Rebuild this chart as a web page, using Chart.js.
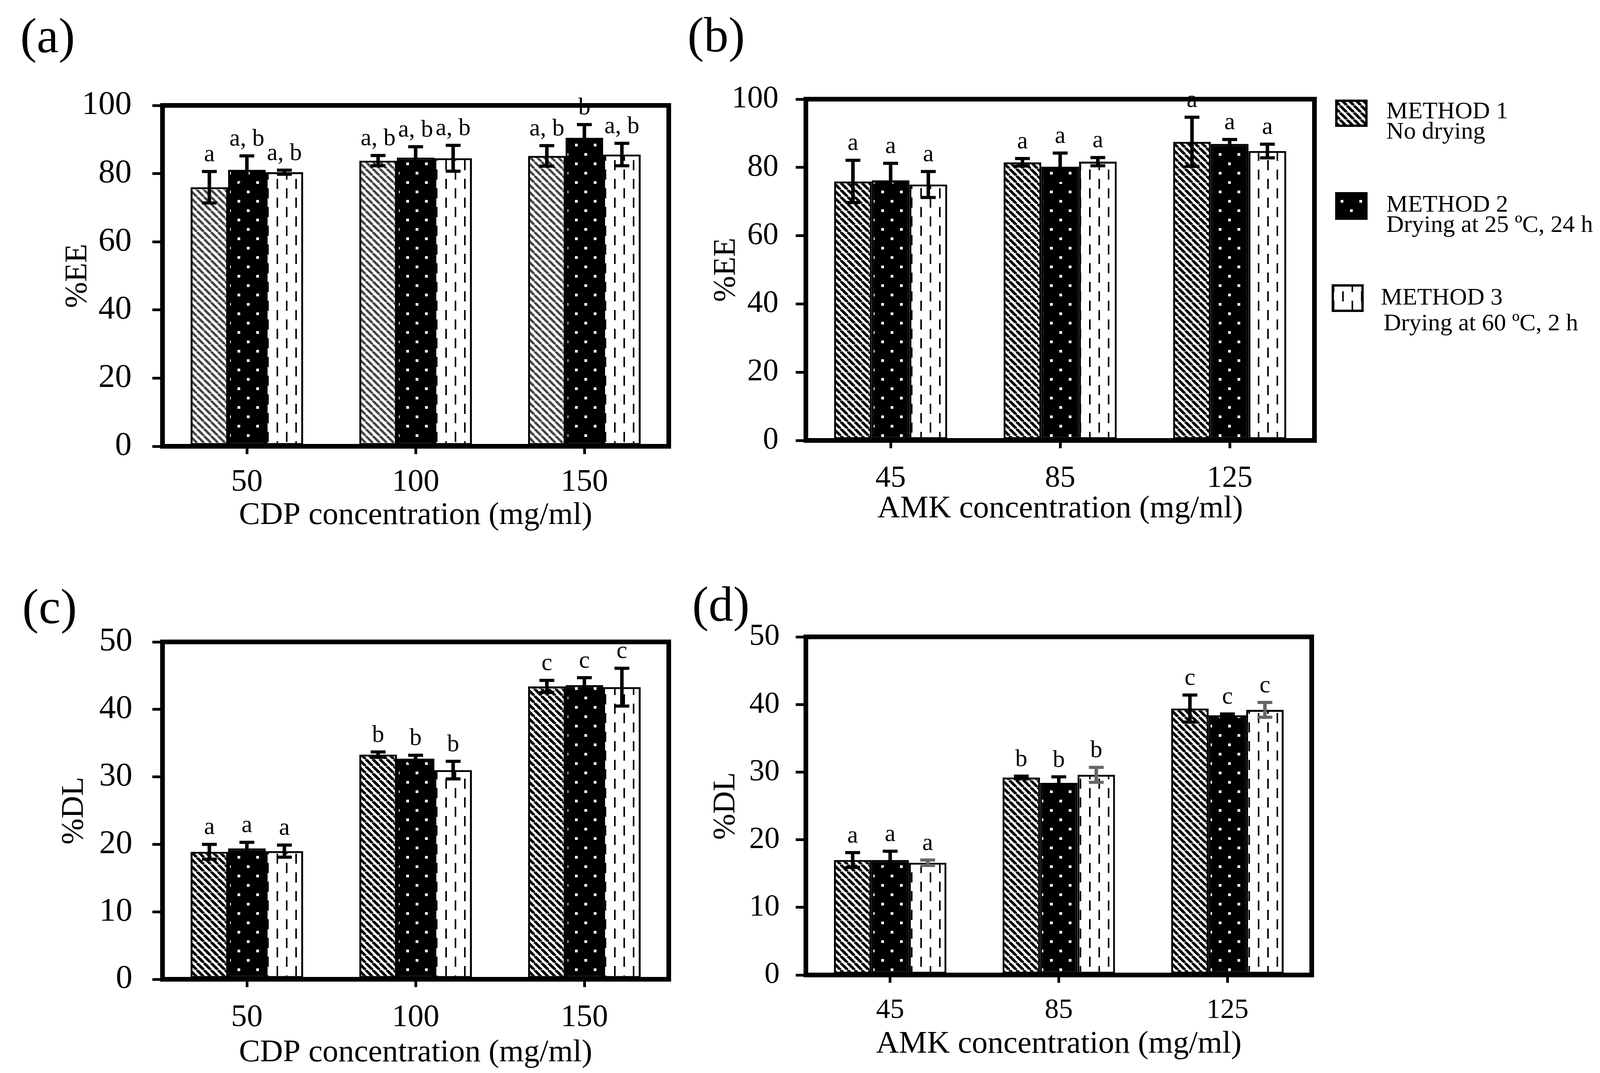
<!DOCTYPE html>
<html>
<head>
<meta charset="utf-8">
<script src="https://cdn.jsdelivr.net/npm/chart.js@4.4.1/dist/chart.umd.min.js"></script>
<style>
  html, body { margin: 0; padding: 0; background: #fff; }
  body { width: 4108px; height: 2748px; position: relative; overflow: hidden; }
  canvas { position: absolute; }
</style>
</head>
<body>
<canvas id="panelA"></canvas>
<canvas id="panelB"></canvas>
<canvas id="panelC"></canvas>
<canvas id="panelD"></canvas>
<script>
// ---- data ----
const methods = ['METHOD 1', 'METHOD 2', 'METHOD 3'];
const methodNotes = ['No drying', 'Drying at 25 ºC, 24 h', 'Drying at 60 ºC, 2 h'];
const cdpConc = ['50', '100', '150'];
const amkConc = ['45', '85', '125'];

// (a) %EE vs CDP concentration
const eeCdp = [[76.0, 83.8, 85.2], [81.1, 84.7, 90.5], [80.4, 84.5, 85.6]];
const eeCdpErr = [[4.6, 1.5, 3.0], [4.1, 3.2, 3.9], [0.6, 3.8, 3.3]];
const eeCdpSig = [['a', 'a, b', 'a, b'], ['a, b', 'a, b', 'b'], ['a, b', 'a, b', 'a, b']];

// (b) %EE vs AMK concentration
const eeAmk = [[75.9, 81.5, 87.5], [76.2, 80.2, 86.9], [75.0, 81.7, 84.8]];
const eeAmkErr = [[6.2, 1.1, 7.2], [5.0, 4.0, 1.3], [3.8, 1.2, 2.0]];
const eeAmkSig = [['a', 'a', 'a'], ['a', 'a', 'a'], ['a', 'a', 'a']];

// (c) %DL vs CDP concentration
const dlCdp = [[18.9, 33.3, 43.4], [19.4, 32.7, 43.6], [19.0, 31.0, 43.3]];
const dlCdpErr = [[1.1, 0.4, 0.9], [0.9, 0.5, 1.1], [0.9, 1.3, 2.8]];
const dlCdpSig = [['a', 'b', 'c'], ['a', 'b', 'c'], ['a', 'b', 'c']];

// (d) %DL vs AMK concentration
const dlAmk = [[17.0, 29.2, 39.4], [17.0, 28.4, 38.4], [16.6, 29.6, 39.2]];
const dlAmkErr = [[1.1, 0.2, 2.0], [1.3, 0.9, 0.2], [0.4, 1.1, 1.1]];
const dlAmkSig = [['a', 'b', 'c'], ['a', 'b', 'c'], ['a', 'b', 'c']];

const SERIF = "'Liberation Serif', 'Times New Roman', serif";
Chart.defaults.font.family = SERIF;
Chart.defaults.color = '#000';

// ---- fill patterns ----
function stripes(color, size, lw) {
  const c = document.createElement('canvas');
  c.width = c.height = size;
  const g = c.getContext('2d');
  g.fillStyle = '#fff';
  g.fillRect(0, 0, size, size);
  g.strokeStyle = color;
  g.lineWidth = lw;
  g.beginPath();
  for (const o of [-size, 0, size]) {
    g.moveTo(o, 0);
    g.lineTo(o + size, size);
  }
  g.stroke();
  return g.createPattern(c, 'repeat');
}
function dots() {
  const c = document.createElement('canvas');
  c.width = c.height = 48;
  const g = c.getContext('2d');
  g.fillStyle = '#000';
  g.fillRect(0, 0, 48, 48);
  g.fillStyle = '#fff';
  g.fillRect(8, 8, 7, 7);
  g.fillRect(32, 32, 7, 7);
  return g.createPattern(c, 'repeat');
}
function dashes() {
  const c = document.createElement('canvas');
  c.width = c.height = 48;
  const g = c.getContext('2d');
  g.fillStyle = '#fff';
  g.fillRect(0, 0, 48, 48);
  g.fillStyle = '#000';
  g.fillRect(12, 2, 4, 26);
  g.fillRect(36, 26, 4, 22);
  g.fillRect(36, 0, 4, 4);
  return g.createPattern(c, 'repeat');
}
const patGray = [stripes('#444', 18, 6), dots(), dashes()];
const patBlack = [stripes('#000', 18, 7), dots(), dashes()];

// ---- plugins ----
const framePlugin = {
  id: 'frame',
  afterDraw(chart) {
    const { ctx, chartArea: a } = chart;
    ctx.save();
    ctx.strokeStyle = '#000';
    ctx.lineWidth = 12;
    ctx.lineJoin = 'miter';
    ctx.strokeRect(a.left, a.top, a.right - a.left, a.bottom - a.top);
    ctx.restore();
  }
};

const errorPlugin = {
  id: 'errorbars',
  afterDatasetsDraw(chart) {
    const { ctx } = chart;
    const ys = chart.scales.y;
    ctx.save();
    chart.data.datasets.forEach((ds, i) => {
      const meta = chart.getDatasetMeta(i);
      meta.data.forEach((bar, j) => {
        const v = ds.data[j], e = ds.errors[j];
        const top = ys.getPixelForValue(v + e);
        const bot = ys.getPixelForValue(v - e);
        ctx.strokeStyle = ds.errColor;
        ctx.lineWidth = 9;
        ctx.beginPath();
        ctx.moveTo(bar.x, top);
        ctx.lineTo(bar.x, bot);
        ctx.stroke();
        ctx.lineWidth = 8;
        ctx.beginPath();
        ctx.moveTo(bar.x - 19, top);
        ctx.lineTo(bar.x + 19, top);
        ctx.moveTo(bar.x - 19, bot);
        ctx.lineTo(bar.x + 19, bot);
        ctx.stroke();
        ctx.fillStyle = '#000';
        ctx.font = '62px ' + SERIF;
        ctx.textAlign = 'center';
        ctx.textBaseline = 'alphabetic';
        ctx.fillText(ds.letters[j], bar.x, top - 26);
      });
    });
    ctx.restore();
  }
};

const tagPlugin = {
  id: 'tag',
  afterDraw(chart, args, opts) {
    const { ctx } = chart;
    ctx.save();
    ctx.fillStyle = '#000';
    ctx.font = '126px ' + SERIF;
    ctx.textAlign = 'left';
    ctx.textBaseline = 'alphabetic';
    ctx.fillText(opts.text, opts.x, opts.y);
    ctx.restore();
  }
};

const legendPlugin = {
  id: 'methodLegend',
  afterDraw(chart, args, opts) {
    if (!opts.items) return;
    const { ctx } = chart;
    ctx.save();
    opts.items.forEach((it, i) => {
      const [x, y, w, h] = it.box;
      ctx.fillStyle = patBlack[i];
      ctx.fillRect(x, y, w, h);
      ctx.strokeStyle = '#000';
      ctx.lineWidth = 6;
      ctx.strokeRect(x, y, w, h);
      ctx.fillStyle = '#000';
      ctx.font = '62px ' + SERIF;
      ctx.textAlign = 'left';
      ctx.textBaseline = 'alphabetic';
      ctx.fillText(methods[i], it.t1[0], it.t1[1]);
      ctx.fillText(methodNotes[i], it.t2[0], it.t2[1]);
    });
    ctx.restore();
  }
};

// ---- panel builder ----
function panel(id, g, cats, values, errs, sig, pats, errColors) {
  const cv = document.getElementById(id);
  const [cx, cy, cw, ch] = g.canvas;
  cv.width = cw; cv.height = ch;
  Object.assign(cv.style, { left: cx + 'px', top: cy + 'px', width: cw + 'px', height: ch + 'px' });
  const L = g.area[0] - cx, T = g.area[1] - cy, R = g.area[2] - cx, B = g.area[3] - cy;

  new Chart(cv, {
    type: 'bar',
    data: {
      labels: cats,
      datasets: values.map((d, i) => ({
        label: methods[i],
        data: d,
        errors: errs[i],
        letters: sig[i],
        errColor: errColors[i],
        backgroundColor: pats[i],
        borderColor: '#000',
        borderWidth: 5,
        borderSkipped: false,
        categoryPercentage: 0.667,
        barPercentage: 1.0
      }))
    },
    options: {
      responsive: false,
      animation: false,
      devicePixelRatio: 1,
      layout: { padding: { top: T, right: cw - R, left: 0, bottom: 0 } },
      plugins: {
        legend: { display: false },
        tooltip: { enabled: false },
        tag: { text: g.tag, x: g.tagPos[0] - cx, y: g.tagPos[1] - cy },
        methodLegend: g.legend ? {
          items: g.legend.map(it => ({
            box: [it.box[0] - cx, it.box[1] - cy, it.box[2], it.box[3]],
            t1: [it.t1[0] - cx, it.t1[1] - cy],
            t2: [it.t2[0] - cx, it.t2[1] - cy]
          }))
        } : {}
      },
      scales: {
        x: {
          grid: { offset: false, drawOnChartArea: false, drawTicks: true, tickLength: 20, lineWidth: 7, color: '#000' },
          border: { display: true, width: 12, color: '#000' },
          ticks: { font: { size: g.xTickSize }, color: '#000', padding: g.xTickPad, maxRotation: 0 },
          title: { display: true, text: g.xTitle, color: '#000', font: { size: 81 }, padding: { top: 0, bottom: g.xTitlePad } },
          afterFit(s) { s.height = ch - B; }
        },
        y: {
          min: 0,
          max: g.yMax,
          grid: { drawOnChartArea: false, drawTicks: true, tickLength: 26, lineWidth: 7, color: '#000' },
          border: { display: true, width: 12, color: '#000' },
          ticks: {
            stepSize: 10,
            font: { size: g.yTickSize },
            color: '#000',
            padding: g.yTickPad,
            callback: v => (v % g.labelStep === 0 ? String(v) : '')
          },
          title: { display: true, text: g.yTitle, color: '#000', font: { size: 80 }, padding: { top: g.yTitlePad, bottom: 0 } },
          afterFit(s) { s.width = L; }
        }
      }
    },
    plugins: [framePlugin, errorPlugin, tagPlugin, legendPlugin]
  });
}

const black3 = ['#000', '#000', '#000'];

panel('panelA', {
  canvas: [0, 0, 1720, 1440], area: [416, 270, 1712, 1143],
  yMax: 100, labelStep: 20, yTitle: '%EE', xTitle: 'CDP concentration (mg/ml)',
  xTickSize: 81, yTickSize: 85, xTickPad: 24, yTickPad: 53, xTitlePad: 71, yTitlePad: 152,
  tag: '(a)', tagPos: [52, 134]
}, cdpConc, eeCdp, eeCdpErr, eeCdpSig, patGray, black3);

panel('panelB', {
  canvas: [1720, 0, 2388, 1440], area: [2063, 254, 3365, 1128],
  yMax: 100, labelStep: 20, yTitle: '%EE', xTitle: 'AMK concentration (mg/ml)',
  xTickSize: 78, yTickSize: 80, xTickPad: 31, yTickPad: 44, xTitlePad: 88, yTitlePad: 92,
  tag: '(b)', tagPos: [1760, 132],
  legend: [
    { box: [3421, 258, 77, 64], t1: [3549, 303], t2: [3549, 355] },
    { box: [3421, 495, 77, 65], t1: [3549, 542], t2: [3549, 594] },
    { box: [3412, 731, 76, 65], t1: [3535, 780], t2: [3542, 846] }
  ]
}, amkConc, eeAmk, eeAmkErr, eeAmkSig, patBlack, black3);

panel('panelC', {
  canvas: [0, 1440, 1720, 1308], area: [416, 1644, 1712, 2508],
  yMax: 50, labelStep: 10, yTitle: '%DL', xTitle: 'CDP concentration (mg/ml)',
  xTickSize: 81, yTickSize: 85, xTickPad: 30, yTickPad: 51, xTitlePad: 3, yTitlePad: 143,
  tag: '(c)', tagPos: [57, 1596]
}, cdpConc, dlCdp, dlCdpErr, dlCdpSig, patBlack, black3);

panel('panelD', {
  canvas: [1720, 1440, 2388, 1308], area: [2063, 1631, 3358, 2497],
  yMax: 50, labelStep: 10, yTitle: '%DL', xTitle: 'AMK concentration (mg/ml)',
  xTickSize: 72, yTickSize: 78, xTickPad: 28, yTickPad: 41, xTitlePad: 25, yTitlePad: 91,
  tag: '(d)', tagPos: [1772, 1590]
}, amkConc, dlAmk, dlAmkErr, dlAmkSig, patBlack, ['#000', '#000', '#666']);
</script>
</body>
</html>
